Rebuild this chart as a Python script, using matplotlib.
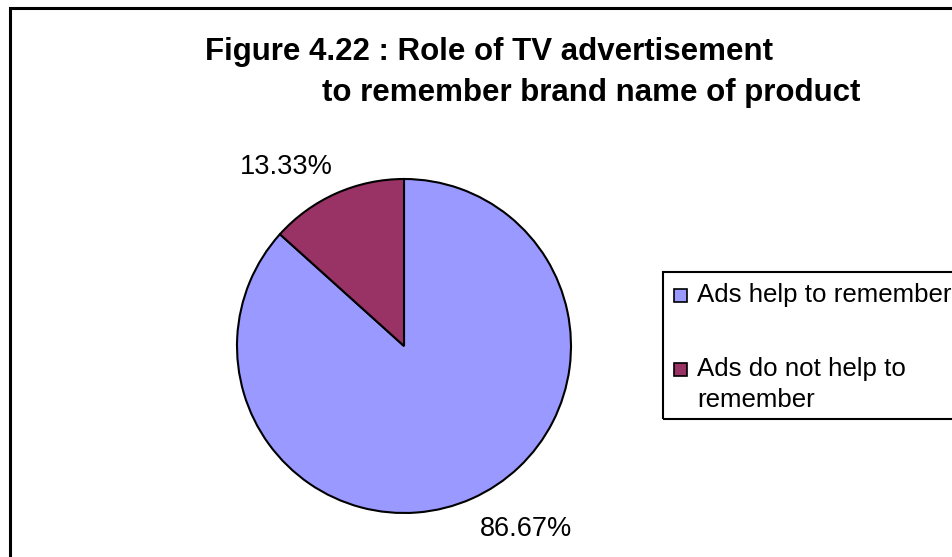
import matplotlib
matplotlib.use("Agg")
import matplotlib.pyplot as plt
from matplotlib.patches import Rectangle

# Survey shares
categories = ["Ads help to remember", "Ads do not help to remember"]
legend_labels = [["Ads help to remember"], ["Ads do not help to", "remember"]]
shares = [86.67, 13.33]
colors = ["#9999FF", "#993366"]
title_lines = ["Figure 4.22 : Role of TV advertisement",
               "to remember brand name of product"]

W, H = 952, 557
plt.rcParams["font.family"] = ["Liberation Sans", "DejaVu Sans"]

fig = plt.figure(figsize=(W / 100, H / 100), dpi=100)
fig.patch.set_facecolor("white")


def fx(px):
    return px / W


def fy(py):
    return 1 - py / H


# Chart area border (runs past the right and bottom edges)
fig.add_artist(Rectangle((fx(10), fy(620)), fx(1000), (620 - 8) / H,
                         transform=fig.transFigure, fill=False,
                         edgecolor="black", linewidth=2.2))

# Title
fig.text(fx(205), fy(60), title_lines[0], fontsize=22.5, fontweight="bold",
         ha="left", va="baseline")
fig.text(fx(860), fy(101), title_lines[1], fontsize=22.5, fontweight="bold",
         ha="right", va="baseline")

# Pie
cx, cy, r = 404, 346, 167
ax = fig.add_axes([fx(cx - r), fy(cy + r), 2 * r / W, 2 * r / H])
wedges, _texts, autotexts = ax.pie(
    shares, colors=colors, startangle=90, counterclock=False,
    wedgeprops=dict(edgecolor="black", linewidth=1.5),
    autopct=lambda p: "", pctdistance=1.3)
ax.set_xlim(-1, 1)
ax.set_ylim(-1, 1)
ax.axis("off")

# Percentage labels outside the slices
label_pos = [(0.73, -1.095), (-0.705, 1.07)]
for t, v, pos in zip(autotexts, shares, label_pos):
    t.set_text(f"{v:.2f}%")
    t.set_position(pos)
    t.set_fontsize(19.5)
    t.set_ha("center")
    t.set_va("center")

# Legend
fig.add_artist(Rectangle((fx(663), fy(419)), fx(400), (419 - 272) / H,
                         transform=fig.transFigure, fill=False,
                         edgecolor="black", linewidth=1.5))
row_baseline = [302, 376]
line_step = 31
for lines, col, yb in zip(legend_labels, colors, row_baseline):
    s = 13
    fig.add_artist(Rectangle((fx(674), fy(yb)), s / W, s / H,
                             transform=fig.transFigure, facecolor=col,
                             edgecolor="black", linewidth=1.2))
    for i, line in enumerate(lines):
        fig.text(fx(697), fy(yb + i * line_step), line, fontsize=18.6,
                 ha="left", va="baseline")

fig.savefig("out.png", dpi=100)
